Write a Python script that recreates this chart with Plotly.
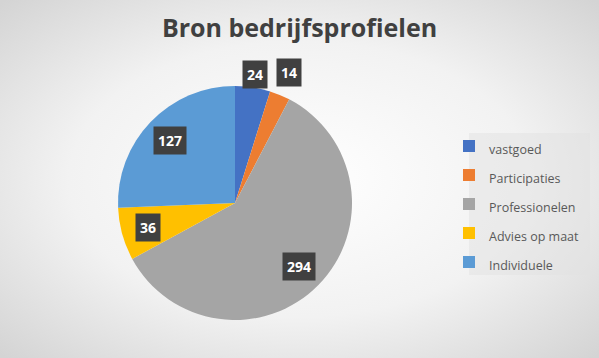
import base64
import math
import plotly.graph_objects as go

# ---- data ----
categories = ["vastgoed", "Participaties", "Professionelen", "Advies op maat", "Individuele"]
values = [24, 14, 294, 36, 127]
colors = ["#4472C4", "#ED7D31", "#A5A5A5", "#FFC000", "#5B9BD5"]
title_text = "Bron bedrijfsprofielen"

W, H = 599, 358
CX, CY, R = 235, 203, 117   # pie centre / radius (pixels)

FONT = "Open Sans, Noto Sans, sans-serif"

# background radial gradient (svg data uri)
svg = f"""<svg xmlns='http://www.w3.org/2000/svg' width='{W}' height='{H}'>
<defs><radialGradient id='g' cx='50%' cy='50%' r='70%'>
<stop offset='0%' stop-color='#ffffff'/><stop offset='55%' stop-color='#f2f2f2'/>
<stop offset='100%' stop-color='#d4d4d4'/></radialGradient></defs>
<rect width='100%' height='100%' fill='url(#g)'/></svg>"""
bg_uri = "data:image/svg+xml;base64," + base64.b64encode(svg.encode()).decode()

legend_labels = [f"<span style='font-size:12.5px'>{c}</span>" for c in categories]

fig = go.Figure()
fig.add_trace(go.Pie(
    labels=legend_labels,
    values=values,
    sort=False,
    direction="clockwise",
    rotation=0,
    marker=dict(colors=colors, line=dict(width=0)),
    textinfo="none",
    hovertext=categories,
    hoverinfo="text+value",
    domain=dict(x=[(CX - R) / W, (CX + R) / W],
                y=[1 - (CY + R) / H, 1 - (CY - R) / H]),
))

# data labels computed from slice mid-angles
total = sum(values)
cum = 0
annotations = []
for v in values:
    mid = (cum + v / 2) / total * 2 * math.pi
    cum += v
    share = v / total
    f = 0.77 if share > 0.06 else 1.1 + max(0.0, 0.05 - share) * 5
    px = CX + f * R * math.sin(mid)
    py = CY - f * R * math.cos(mid)
    annotations.append(dict(
        x=px / W, y=1 - py / H, xref="paper", yref="paper",
        xanchor="center", yanchor="middle",
        text=f"<b>{v}</b>", showarrow=False,
        font=dict(family=FONT, size=14, color="white"),
        bgcolor="#404040", borderpad=4,
    ))

fig.update_layout(
    width=W, height=H,
    margin=dict(l=0, r=0, t=0, b=0, autoexpand=False),
    paper_bgcolor="#ececec",
    plot_bgcolor="rgba(0,0,0,0)",
    images=[dict(source=bg_uri, xref="paper", yref="paper", x=0, y=1,
                 sizex=1, sizey=1, xanchor="left", yanchor="top",
                 sizing="stretch", layer="below")],
    shapes=[dict(type="rect", xref="paper", yref="paper",
                 x0=469 / W, x1=590 / W, y0=1 - 275 / H, y1=1 - 133 / H,
                 fillcolor="rgba(225,225,225,0.5)", line=dict(width=0), layer="below")],
    title=dict(text="<b>" + title_text + "</b>", x=0.5, xanchor="center",
               y=1 - 19 / H, yanchor="top",
               font=dict(family=FONT, size=25, color="#404040")),
    legend=dict(x=449 / W, y=1 - 204 / H, xanchor="left", yanchor="middle",
                bgcolor="rgba(0,0,0,0)",
                font=dict(family=FONT, size=20, color="#595959"),
                itemwidth=30),
    annotations=annotations,
)

fig.write_html("out.html", config={"displayModeBar": False},
               post_script="document.body.style.margin='0';")
